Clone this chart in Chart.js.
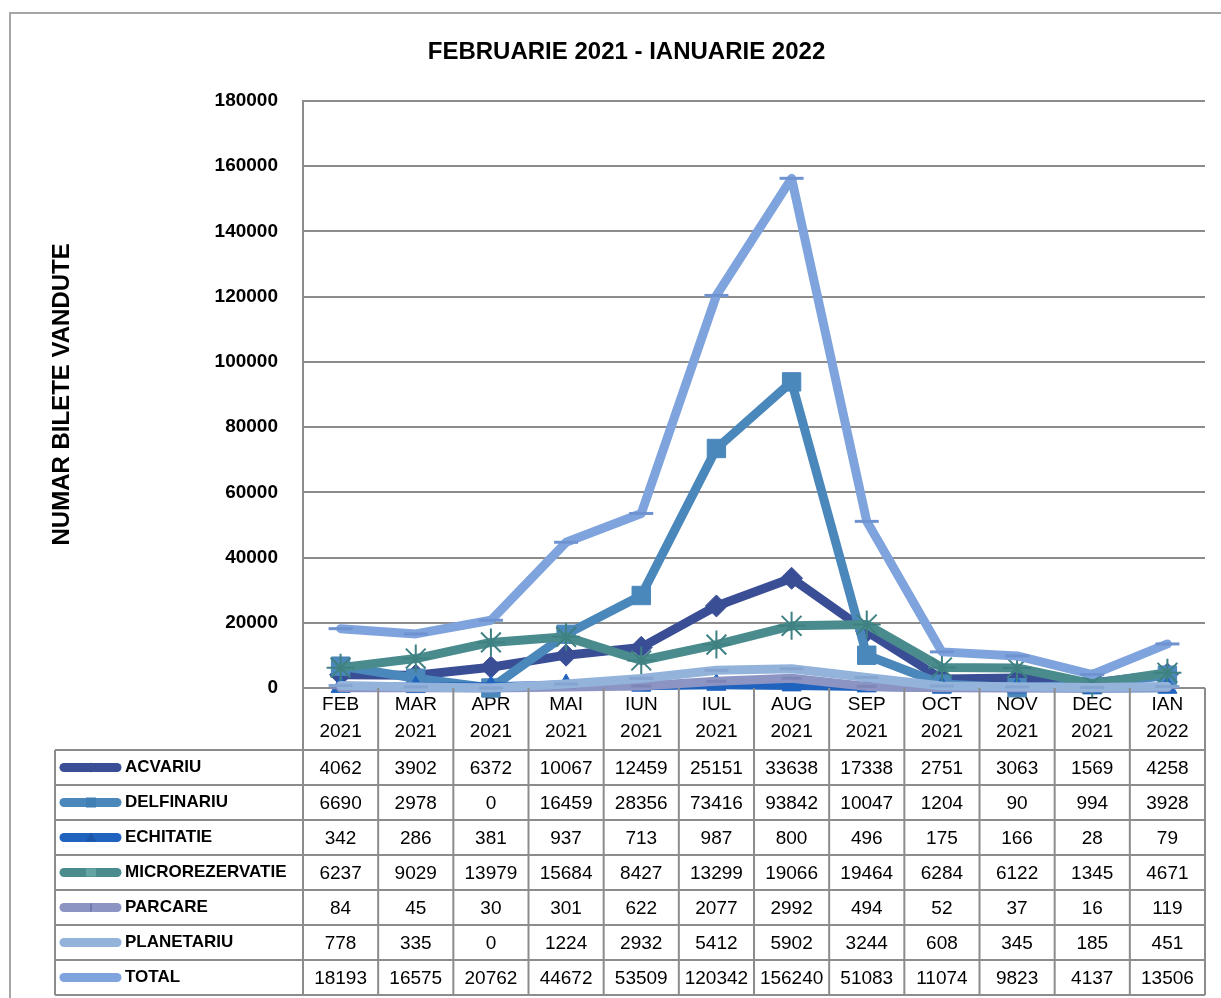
<!DOCTYPE html>
<html>
<head>
<meta charset="utf-8">
<script src="https://cdn.jsdelivr.net/npm/chart.js@4"></script>
<style>
  html,body{margin:0;padding:0;background:#fff;}
  #wrap{position:absolute;left:0;top:0;width:1221px;height:998px;}
</style>
</head>
<body>
<div id="wrap"><canvas id="c"></canvas></div>
<script>
const months = ['FEB','MAR','APR','MAI','IUN','IUL','AUG','SEP','OCT','NOV','DEC','IAN'];
const years  = ['2021','2021','2021','2021','2021','2021','2021','2021','2021','2021','2021','2022'];
const seriesNames = ['ACVARIU','DELFINARIU','ECHITATIE','MICROREZERVATIE','PARCARE','PLANETARIU','TOTAL'];
const acvariu        = [4062,3902,6372,10067,12459,25151,33638,17338,2751,3063,1569,4258];
const delfinariu     = [6690,2978,0,16459,28356,73416,93842,10047,1204,90,994,3928];
const echitatie      = [342,286,381,937,713,987,800,496,175,166,28,79];
const microrezervatie= [6237,9029,13979,15684,8427,13299,19066,19464,6284,6122,1345,4671];
const parcare        = [84,45,30,301,622,2077,2992,494,52,37,16,119];
const planetariu     = [778,335,0,1224,2932,5412,5902,3244,608,345,185,451];
const total          = [18193,16575,20762,44672,53509,120342,156240,51083,11074,9823,4137,13506];
const yTicks = [0,20000,40000,60000,80000,100000,120000,140000,160000,180000];

const seriesValues = [acvariu,delfinariu,echitatie,microrezervatie,parcare,planetariu,total];
const styles = [
  {color:'#3a4e96', point:'rectRot', r:11, pb:'#33468a'},
  {color:'#4a87bb', point:'rect',    r:13, pb:'#3f7aab'},
  {color:'#1f63bf', point:'triangle',r:11, pb:'#1a58ac'},
  {color:'#4a8c8d', point:'star',    r:14, pb:'#3f8182'},
  {color:'#8c94c4', point:'line',    r:10, pb:'#7e86b8'},
  {color:'#93b3db', point:'line',    r:12, pb:'#85a5d0'},
  {color:'#7fa3dd', point:'line',    r:12, pb:'#6f93d0'}
];

const datasets = seriesNames.map((name,i)=>({
  label:name,
  data:seriesValues[i],
  borderColor:styles[i].color,
  backgroundColor:styles[i].color,
  borderWidth:9,
  pointStyle:styles[i].point,
  pointRadius:styles[i].r,
  pointBackgroundColor:styles[i].color,
  pointBorderColor:styles[i].point==='star'||styles[i].point==='line'?styles[i].pb:styles[i].color,
  pointBorderWidth:styles[i].point==='star'?2:(styles[i].point==='line'?3:1),
  tension:0,
  clip:false,
  order:seriesNames.length-i
}));

const GRID='#8c8c8c';
const ROW_H=35;
const TABLE_LEFT=55;

const framePlugin = {
  id:'frame',
  beforeDraw(chart){
    const ctx=chart.ctx;
    ctx.save();
    ctx.strokeStyle='#a6a6a6'; ctx.lineWidth=2;
    ctx.beginPath();
    ctx.moveTo(10,998); ctx.lineTo(10,13); ctx.lineTo(1221,13);
    ctx.stroke();
    ctx.restore();
  }
};

function drawLegendMarker(ctx, style, x, y){
  ctx.save();
  ctx.fillStyle=style.color; ctx.strokeStyle=style.pb;
  const p=style.point;
  if(p==='rectRot'){
    ctx.beginPath(); ctx.moveTo(x,y-5); ctx.lineTo(x+5,y); ctx.lineTo(x,y+5); ctx.lineTo(x-5,y); ctx.closePath(); ctx.fill();
  } else if(p==='rect'){
    ctx.fillStyle='#3f7fb4'; ctx.fillRect(x-5,y-5,10,10);
  } else if(p==='triangle'){
    ctx.fillStyle='#1a55a8';
    ctx.beginPath(); ctx.moveTo(x,y-5); ctx.lineTo(x+5,y+4); ctx.lineTo(x-5,y+4); ctx.closePath(); ctx.fill();
  } else if(p==='star'){
    ctx.lineWidth=1; ctx.strokeStyle='#7fbcbc';
    ctx.beginPath(); for(let k=-4;k<=4;k+=2){ctx.moveTo(x+k,y-4);ctx.lineTo(x+k,y+4);} ctx.stroke();
  } else if(p==='line' && style.color==='#8c94c4'){
    ctx.lineWidth=2; ctx.strokeStyle='#7078ac';
    ctx.beginPath(); ctx.moveTo(x,y-4); ctx.lineTo(x,y+4); ctx.stroke();
  }
  ctx.restore();
}

const tablePlugin = {
  id:'dataTable',
  afterDraw(chart){
    const ctx=chart.ctx, xs=chart.scales.x, ca=chart.chartArea;
    const n=months.length;
    const step=xs.getPixelForValue(1)-xs.getPixelForValue(0);
    const labelBottom=xs.bottom;
    const rows=chart.data.datasets.length;
    const bottom=labelBottom+ROW_H*rows;
    ctx.save();
    ctx.strokeStyle=GRID; ctx.lineWidth=2;
    ctx.beginPath();
    for(let i=0;i<=n;i++){
      const px=i<n?xs.getPixelForValue(i)-step/2:xs.getPixelForValue(n-1)+step/2;
      ctx.moveTo(px,ca.bottom); ctx.lineTo(px,bottom);
    }
    ctx.moveTo(TABLE_LEFT,labelBottom); ctx.lineTo(TABLE_LEFT,bottom);
    for(let r=0;r<=rows;r++){
      const py=labelBottom+r*ROW_H;
      ctx.moveTo(TABLE_LEFT,py); ctx.lineTo(ca.right,py);
    }
    ctx.stroke();
    ctx.fillStyle='#000';
    ctx.textAlign='center'; ctx.textBaseline='middle';
    ctx.font='19px "Liberation Sans", Arial, sans-serif';
    chart.data.datasets.forEach((ds,r)=>{
      const cy=labelBottom+r*ROW_H+ROW_H/2+1;
      ds.data.forEach((v,i)=>{
        ctx.fillText(String(v), xs.getPixelForValue(i), cy);
      });
    });
    chart.data.datasets.forEach((ds,r)=>{
      const cy=labelBottom+r*ROW_H+ROW_H/2;
      ctx.save();
      ctx.strokeStyle=ds.borderColor; ctx.lineWidth=9; ctx.lineCap='round';
      ctx.beginPath(); ctx.moveTo(64,cy); ctx.lineTo(117,cy); ctx.stroke();
      ctx.restore();
      drawLegendMarker(ctx, styles[r], 91, cy);
      ctx.fillStyle='#000'; ctx.textAlign='left';
      ctx.font='bold 17px "Liberation Sans", Arial, sans-serif';
      ctx.fillText(ds.label, 125, cy);
    });
    ctx.restore();
  }
};

new Chart(document.getElementById('c'), {
  type:'line',
  data:{labels:months.map((m,i)=>[m,years[i]]), datasets},
  plugins:[framePlugin, tablePlugin],
  options:{
    responsive:true, maintainAspectRatio:false, animation:false,
    layout:{padding:{left:48,right:16,top:0,bottom:248}},
    elements:{line:{borderCapStyle:'round',borderJoinStyle:'round'}},
    plugins:{
      legend:{display:false},
      tooltip:{enabled:false},
      title:{display:true,text:'FEBRUARIE 2021 - IANUARIE 2022',color:'#000',
        font:{family:'"Liberation Sans", Arial, sans-serif',size:24,weight:'bold'},
        padding:{top:38,bottom:34}}
    },
    scales:{
      x:{
        offset:true,
        grid:{display:false,drawTicks:false},
        border:{display:false},
        ticks:{color:'#000',padding:3,maxRotation:0,autoSkip:false,
          font:{family:'"Liberation Sans", Arial, sans-serif',size:19,lineHeight:1.42}},
        afterFit(s){s.height=62;}
      },
      y:{
        min:0,max:180000,
        afterBuildTicks(s){s.ticks=yTicks.map(v=>({value:v}));},
        grid:{color:GRID,lineWidth:2,drawTicks:false},
        border:{display:true,color:GRID,width:2},
        ticks:{color:'#000',padding:25,callback:v=>String(v),
          font:{family:'"Liberation Sans", Arial, sans-serif',size:19,weight:'bold'}},
        title:{display:true,text:'NUMAR BILETE VANDUTE',color:'#000',padding:0,
          font:{family:'"Liberation Sans", Arial, sans-serif',size:24,weight:'bold'}},
        afterFit(s){s.width=255;}
      }
    }
  }
});
</script>
</body>
</html>
